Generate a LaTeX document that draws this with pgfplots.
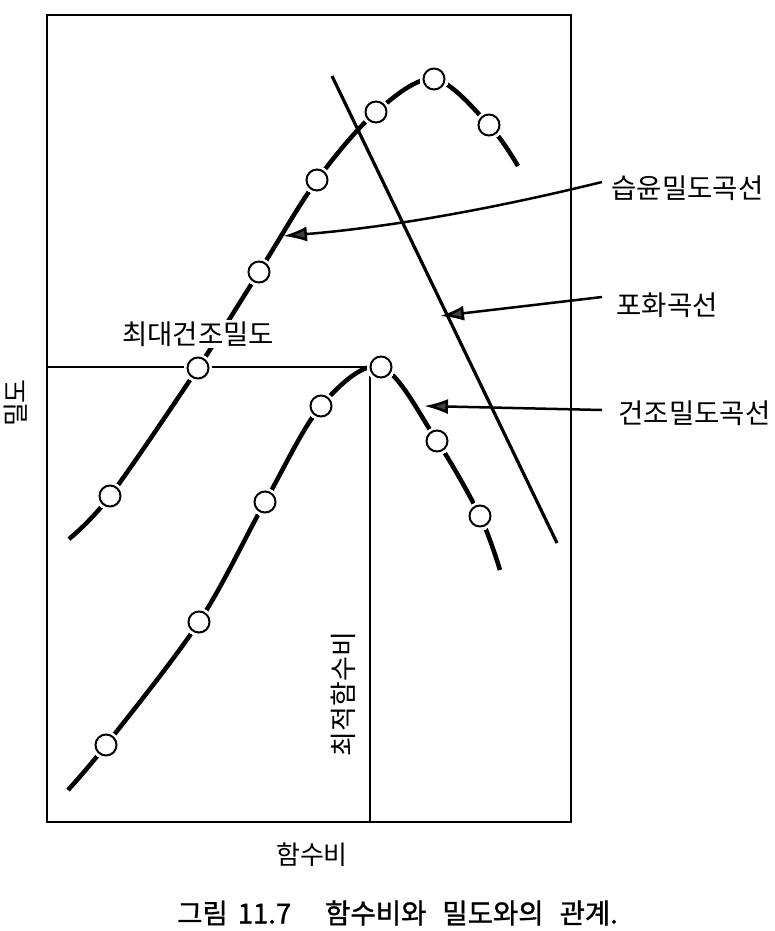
\documentclass[border=0pt]{standalone}
\usepackage{pgfplots}
\pgfplotsset{compat=1.18}
\usepackage{fontspec}
\setmainfont{Noto Sans CJK KR}
\newfontfamily\capfont[FakeBold=1.2]{Noto Sans CJK KR}
\usetikzlibrary{arrows.meta}
\begin{document}
\begin{tikzpicture}
\begin{axis}[
  x=1pt, y=1pt, y dir=reverse,
  xmin=47, xmax=571, ymin=15, ymax=822,
  axis line style={line width=2.2pt},
  xtick=\empty, ytick=\empty,
  clip=false,
]
% page extent
\path (axis cs:0,0) rectangle (axis cs:774,931);
% max dry density / optimum water content lines
\addplot[line width=2pt, black] coordinates {(47,367) (370,367) (370,822)};
% saturation line
\addplot[line width=3.2pt, black] coordinates {(332,76) (557,543)};
% wet density curve
\addplot[line width=4.5pt, black, smooth, tension=0.55] coordinates {
(69,539) (110,496) (198,368) (259,272) (317,180) (376,112) (434,79) (489,125) (518,166)};
% dry density curve
\addplot[line width=4.5pt, black, smooth, tension=0.55] coordinates {
(68,790) (106,745) (199,622) (265,502) (321,406) (381,367) (437,441) (480,516) (500,570)};
% gaps round the marks
\addplot[white, only marks, mark=*, mark size=14pt, mark options={fill=white, draw=white, line width=0pt}] coordinates {
(110,496) (198,368) (259,272) (317,180) (376,112) (434,79) (489,125)
(106,745) (199,622) (265,502) (321,406) (381,367) (437,441) (480,516)};
% marks
\addplot[black, only marks, mark=*, mark size=10.5pt, mark options={line width=2pt, draw=black, fill=white}] coordinates {
(110,496) (198,368) (259,272) (317,180) (376,112) (434,79) (489,125)
(106,745) (199,622) (265,502) (321,406) (381,367) (437,441) (480,516)};
% labels
\node[fill=white, inner sep=2pt, font=\fontsize{27.5}{30}\selectfont] at (axis cs:198,334) {최대건조밀도};
\node[rotate=90, fill=white, inner sep=1pt, font=\fontsize{27}{30}\selectfont] at (axis cs:343,694) {최적함수비};
\node[anchor=west, font=\fontsize{27.5}{30}\selectfont] at (axis cs:608,188) {습윤밀도곡선};
\node[anchor=west, font=\fontsize{27.5}{30}\selectfont] at (axis cs:613,305) {포화곡선};
\node[anchor=west, font=\fontsize{27.5}{30}\selectfont] at (axis cs:615,413) {건조밀도곡선};
\node[rotate=90, font=\fontsize{26}{28}\selectfont] at (axis cs:16,403) {밀도};
\node[font=\fontsize{26}{29}\selectfont] at (axis cs:312,855) {함수비};
\node[anchor=west, inner sep=0pt, font=\capfont\fontsize{27.5}{30}\selectfont] at (axis cs:177,913) {그림\hspace{10pt}11.7\hspace{34pt}함수비와\hspace{16pt}밀도와의\hspace{16pt}관계.};
% arrows
\draw[line width=2.5pt, -{Latex[length=24pt, width=15pt, fill=black!75]}] (axis cs:602,182) .. controls (axis cs:480,212) and (axis cs:380,228) .. (axis cs:283,236);
\draw[line width=2.5pt, -{Latex[length=24pt, width=15pt, fill=black!75]}] (axis cs:602,297) -- (axis cs:440,316);
\draw[line width=2.5pt, -{Latex[length=24pt, width=15pt, fill=black!75]}] (axis cs:602,410) -- (axis cs:424,406);
\end{axis}
\end{tikzpicture}
\end{document}
